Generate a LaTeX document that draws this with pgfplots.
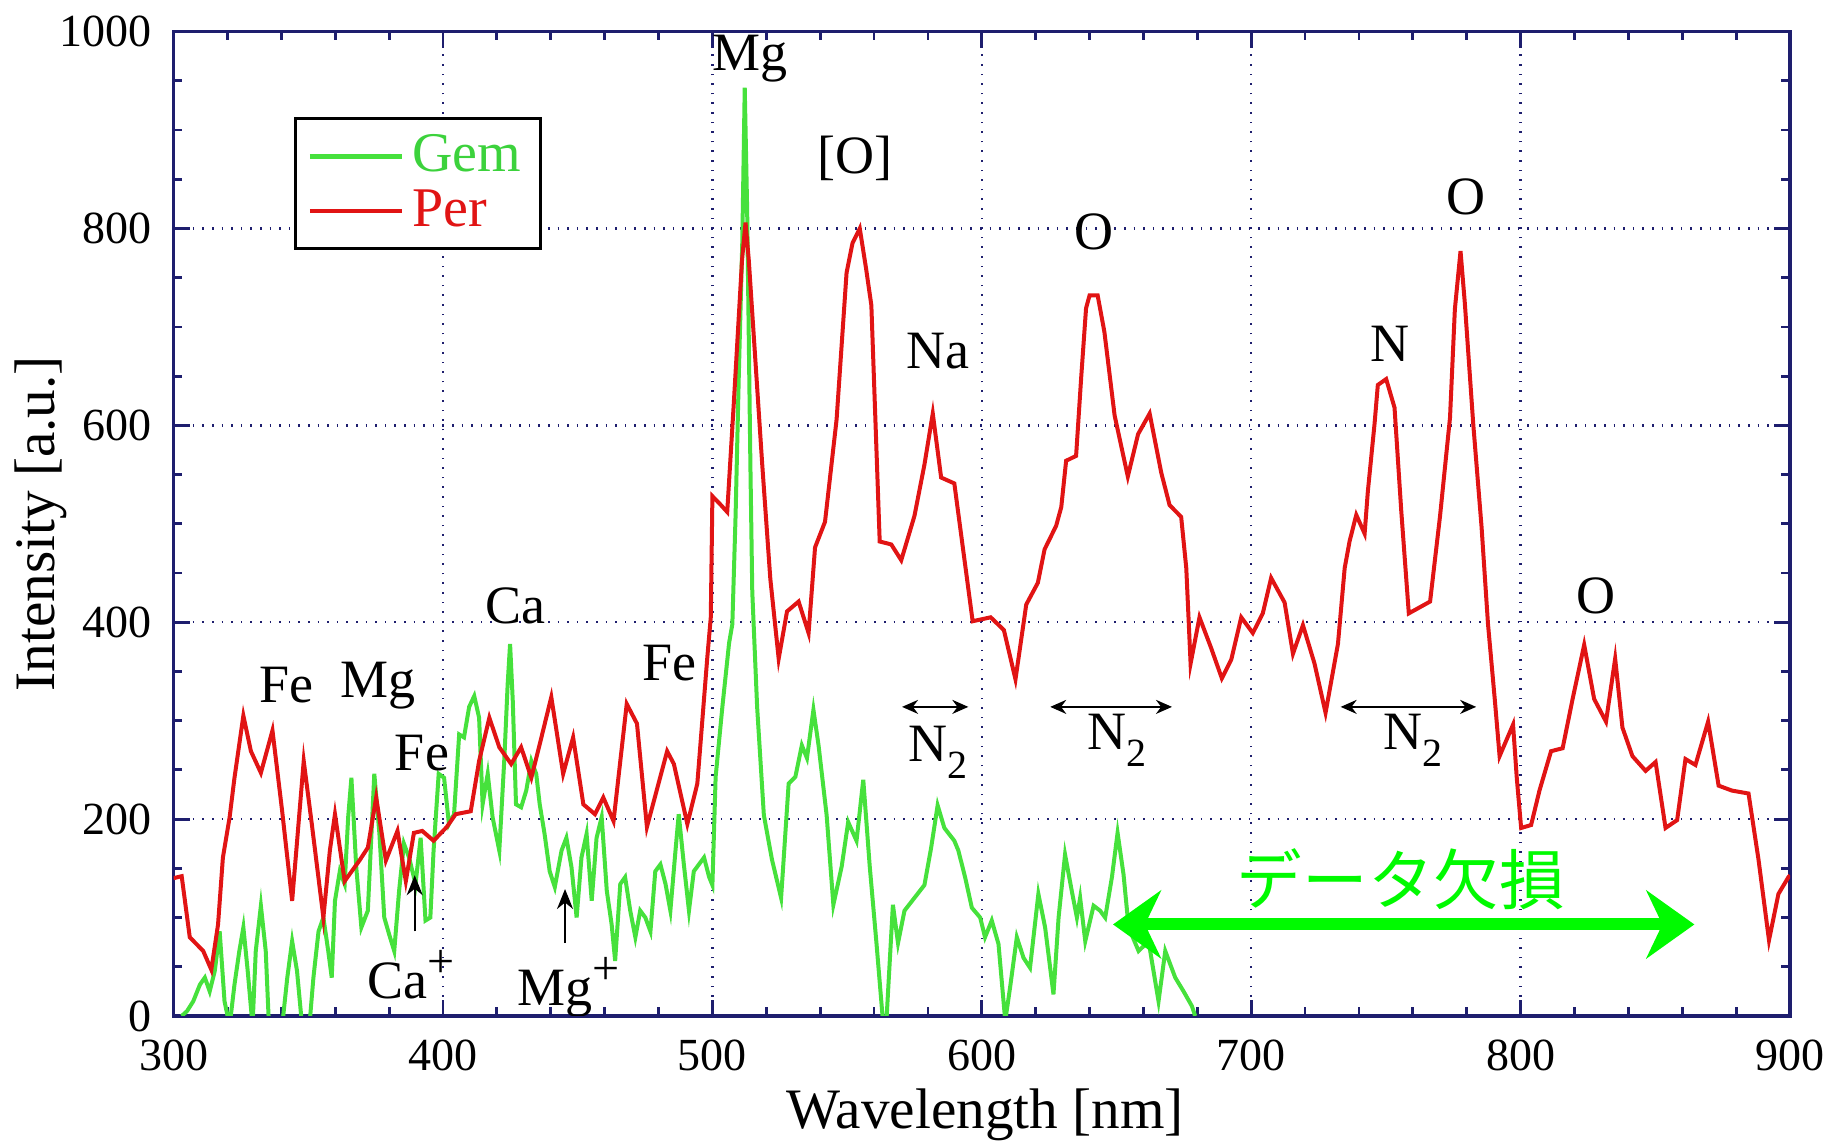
\documentclass[border=0pt]{standalone}
\usepackage{pgfplots}
\pgfplotsset{compat=1.18}
\usepackage{fontspec}
\setmainfont{Liberation Serif}
\newfontfamily\jp{Noto Sans CJK JP}
\usetikzlibrary{arrows.meta}
\definecolor{per}{RGB}{225,20,20}
\definecolor{gem}{RGB}{70,225,60}
\definecolor{gemtxt}{RGB}{60,210,60}
\definecolor{navyax}{RGB}{30,30,110}
\definecolor{brightgreen}{RGB}{0,250,0}
\newcommand{\fs}[1]{\fontsize{#1}{#1}\selectfont}
\begin{document}
\begin{tikzpicture}
\path[use as bounding box] (-43.4pt,-31.5pt) rectangle (416.1pt,254pt);
\begin{axis}[
  scale only axis,
  width=404.1pt, height=246.1pt,
  xmin=300, xmax=900, ymin=0, ymax=1000,
  xtick distance=100, ytick distance=200,
  minor x tick num=4, minor y tick num=3,
  xtick pos=both, ytick pos=both,
  xticklabel pos=lower, yticklabel pos=left,
  tick align=inside,
  major tick length=4pt, minor tick length=2.2pt,
  every tick/.style={navyax, line width=0.7pt},
  axis line style={navyax, line width=0.8pt},
  grid=major,
  major grid style={navyax, dotted, line width=0.6pt},
  /pgf/number format/assume math mode=true,
  /pgf/number format/1000 sep={},
  tick label style={font=\fs{11.5}},
  yticklabel style={xshift=-2pt},
  xticklabel style={yshift=-2.5pt},
  xlabel={Wavelength [nm]}, ylabel={Intensity [a.u.]},
  every axis x label/.style={at={(axis description cs:0.502,0)}, anchor=center, yshift=-24.6pt, font=\fs{14.3}},
  every axis y label/.style={at={(axis description cs:-0.0819,0.5)}, rotate=90, anchor=center, font=\fs{14.3}},
  legend style={at={(axis cs:344.7,913)}, anchor=north west, draw=black, line width=0.8pt,
    font=\fs{14}, fill=white, inner xsep=3pt, inner ysep=2pt, row sep=-1pt},
  legend cell align=left,
  legend image code/.code={\draw[#1, line width=1.1pt] (0pt,0pt) -- (23pt,0pt);},
]
\addplot[gem, line width=1pt] coordinates {
(303,0) (305,5) (307.3,15) (309.8,32) (311.6,39) (313.4,25) (315.3,46) (317.1,86) (318.9,15) (320.8,-10)
(322.6,32) (324.4,66) (325.9,90) (327.5,46) (329.3,-10) (330.5,66) (332.4,112) (334.2,66) (335.4,-10)
(337.9,-20) (340.3,-10) (342.2,39) (344,76) (345.8,46) (347.7,-10) (350.1,-20) (351.9,39) (353.8,86)
(355.6,100) (357.4,66) (358.7,39) (359.9,117) (361.7,147) (363.5,134) (364.8,202) (366,242) (367.8,151)
(369.7,90) (372.1,107) (374.5,246) (376.4,185) (378.2,100) (380,83) (381.9,66) (383.7,127) (385.5,175)
(387.4,161) (389.8,134) (391.7,181) (393.5,97) (395.3,100) (396.5,168) (398.4,246) (400.4,242) (402.2,195)
(404.1,205) (406,286) (407.8,283) (409.7,314) (411.6,325) (413.4,303) (414.7,215) (416.6,246) (418.4,202)
(420.9,168) (422.8,263) (424,337) (424.9,378) (425.9,320) (427.1,215) (429,212) (430.9,229) (432.8,259)
(434.6,246) (435.9,215) (437.7,185) (439.6,147) (441.5,131) (444,168) (445.8,181) (447.7,151) (449.6,100)
(451.4,161) (453.3,185) (455.2,117) (457,181) (458.9,202) (460.8,127) (462.6,93) (463.9,56) (465.8,134)
(467.6,141) (469.5,107) (471.4,80) (473.2,107) (475.1,100) (477,86) (478.8,147) (480.7,154) (482.6,134)
(484.4,107) (486.3,168) (487.5,205) (489.4,154) (491.3,107) (493.1,147) (495,154) (496.9,161) (498.8,141)
(500,133) (501.2,243) (503.7,314) (506.2,379) (507.4,398) (508.6,508) (509.8,651) (511.1,787) (512,943)
(512.9,819) (514.1,560) (514.8,431) (516.6,314) (519.1,204) (522.1,159) (525.5,120) (528.3,236) (530.8,243)
(533.2,275) (535.1,262) (537.5,311) (539.4,275) (542.4,204) (544.9,113) (548,152) (550.4,197) (553.5,178)
(556,240) (558.4,152) (560.9,74) (563.3,-5) (564.6,-5) (567,113) (568.9,74) (571.3,107) (575,120)
(578.7,133) (581.2,171) (583.6,214) (586.1,191) (589.8,178) (591.3,168) (593.8,141) (596.3,110) (599.4,100)
(601.2,80) (603.7,97) (606.2,73) (608.7,-5) (610.5,29) (613,80) (615.5,59) (617.9,49) (621,124)
(623.5,90) (626.6,22) (628.5,100) (630.9,164) (633.4,127) (635.3,100) (636.5,120) (638.4,76) (641.5,112)
(643.9,107) (645.8,100) (648.3,141) (650.4,186) (652.6,144) (654.5,90) (658.2,66) (661.9,76) (665.6,15)
(668.1,66) (671.8,39) (674.9,25) (678,10) (679.2,0)
};
\addlegendentry{\textcolor{gemtxt}{Gem}}
\addplot[per, line width=1pt] coordinates {
(300,140) (303,142) (306,80) (311,66) (314,47) (316.5,93) (318.3,161) (320.8,202) (322.6,242) (325.9,305)
(328.7,269) (332.4,247) (336.7,290) (340.3,208) (344,117) (348.3,259) (351.3,195) (355.6,100) (358,168)
(359.9,205) (363.5,137) (369,158) (372.1,171) (375.2,222) (378.8,158) (383.1,188) (386.2,137) (389.2,186)
(392.3,188) (396.5,178) (401.4,192) (404.7,205) (410.3,208) (413.4,259) (417.2,303) (420.9,273) (425.3,256)
(429,273) (432.8,242) (435.9,276) (440.2,324) (444.6,246) (448.3,283) (452.1,215) (456.4,205) (459.5,222)
(463.3,198) (468.2,317) (472,297) (475.7,192) (483.2,269) (485.7,256) (490.7,195) (494.4,236) (498.1,364)
(499.4,405) (500,528) (502.5,521) (505.5,512) (508,625) (511,768) (512.3,806) (513.5,768) (518.5,560)
(521.5,444) (524.6,363) (527.7,411) (532,421) (535.7,389) (538.1,476) (541.8,502) (546.1,606) (549.8,755)
(552,785) (554.7,800) (557,760) (559,722) (562.1,482) (566.4,479) (570.1,463) (575,508) (578.7,560) (581.8,612) (584.9,547)
(589.8,541) (596.6,401) (603.3,405) (608.2,392) (612.5,342) (616.5,418) (620.8,440) (623.3,474) (627.6,498)
(629.5,517) (631.3,564) (635,569) (636.9,649) (638.7,719) (640,732) (643,732) (645.5,695) (649.3,610)
(654.2,548) (658,591) (662.3,612) (666.6,552) (669.7,519) (674,507) (675.9,455) (677.5,358) (680.8,405)
(685.1,374) (689.1,343) (692.6,362) (696.3,405) (700.6,389) (704.3,409) (707.4,445) (712.4,420) (715.5,368)
(719.2,397) (723.5,358) (727.6,308) (732.2,378) (734.7,455) (736.5,482) (739,509) (742.1,490) (743.3,533)
(745.8,602) (747,641) (750.1,647) (753.2,618) (755.7,513) (758.5,409) (766.4,421) (770.1,508) (773.8,608)
(775.6,718) (777.7,777) (779.3,724) (782.4,602) (785.5,497) (787.9,398) (790.4,322) (792.2,264) (797.2,296)
(798.6,241) (800.2,191) (803.9,194) (807,229) (811.3,269) (815.6,272) (819.3,322) (823.6,377) (827.3,322)
(831.7,299) (835.1,363) (837.8,293) (841.5,264) (846.4,249) (850.1,258) (853.8,191) (858.1,199) (861.2,261)
(864.9,255) (869.6,299) (873.5,234) (878.4,229) (884.6,226) (888.3,159) (892.2,77) (895.7,124) (899.4,141)
(900,143)
};
\addlegendentry{\textcolor{per}{Per}}
% annotations
\begin{scope}[every node/.style={font=\fs{13.5}, inner sep=0pt}]
\node at (axis cs:514,972) {Mg};
\node at (axis cs:553,871) {[O]};
\node at (axis cs:583.7,675) {Na};
\node at (axis cs:641.6,797) {O};
\node at (axis cs:751.6,683) {N};
\node at (axis cs:779.9,832) {O};
\node at (axis cs:827.8,427) {O};
\node at (axis cs:427,417) {Ca};
\node at (axis cs:484,358) {Fe};
\node at (axis cs:341.8,336) {Fe};
\node at (axis cs:375.7,336) {Mg};
\node at (axis cs:392.2,267) {Fe};
\node at (axis cs:388,42) {Ca\raisebox{0.85ex}{\fs{12}+}};
\node at (axis cs:446.6,29) {Mg\raisebox{0.85ex}{\fs{12}+}};
\node at (axis cs:583.7,268) {N\raisebox{-0.7ex}{\fs{10}2}};
\node at (axis cs:650.3,280) {N\raisebox{-0.7ex}{\fs{10}2}};
\node at (axis cs:759.9,280) {N\raisebox{-0.7ex}{\fs{10}2}};
\end{scope}
\draw[-{Stealth[length=5pt,width=4pt]}, line width=0.6pt] (axis cs:389.5,86) -- (axis cs:389.5,143);
\draw[-{Stealth[length=5pt,width=4pt]}, line width=0.6pt] (axis cs:445.3,74) -- (axis cs:445.3,129);
\draw[{Stealth[length=4pt,width=3.5pt]}-{Stealth[length=4pt,width=3.5pt]}, line width=0.5pt] (axis cs:570.4,314) -- (axis cs:595,314);
\draw[{Stealth[length=4pt,width=3.5pt]}-{Stealth[length=4pt,width=3.5pt]}, line width=0.5pt] (axis cs:625.4,314) -- (axis cs:670.6,314);
\draw[{Stealth[length=4pt,width=3.5pt]}-{Stealth[length=4pt,width=3.5pt]}, line width=0.5pt] (axis cs:733.2,314) -- (axis cs:783.5,314);
\draw[brightgreen, line width=3pt, {Stealth[length=12pt,width=17pt,inset=4pt]}-{Stealth[length=12pt,width=17pt,inset=4pt]}] (axis cs:648.7,93) -- (axis cs:864.5,93);
\node[brightgreen, font=\jp\fs{16.4}, inner sep=0pt] at (axis cs:755.6,139) {データ欠損};
\end{axis}
\end{tikzpicture}
\end{document}
